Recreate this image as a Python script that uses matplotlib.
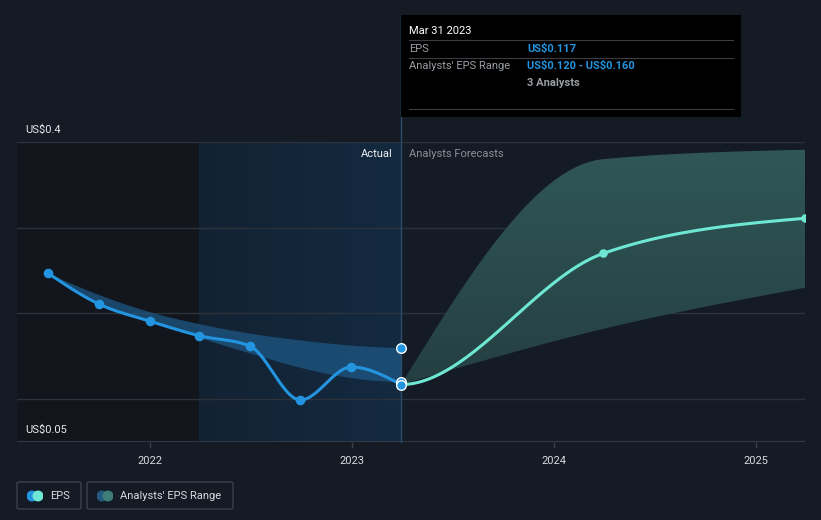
import numpy as np
import matplotlib
matplotlib.use("Agg")
import matplotlib.pyplot as plt
import matplotlib.dates as mdates
from matplotlib.patches import Rectangle, FancyBboxPatch, Circle
from matplotlib.path import Path
from matplotlib.patches import PathPatch
from matplotlib.colors import LinearSegmentedColormap
import datetime as dt

plt.rcParams['font.family'] = ['Roboto', 'DejaVu Sans']

# ---------------- data ----------------
actual_dates = ["2021-06-30", "2021-09-30", "2021-12-31", "2022-03-31",
                "2022-06-30", "2022-09-30", "2022-12-31", "2023-03-31"]
actual_eps = [0.247, 0.211, 0.191, 0.174, 0.162, 0.099, 0.1375, 0.117]
past_range_high = [0.247, 0.222, 0.202, 0.188, 0.177, 0.169, 0.163, 0.160]
past_range_low = [0.247, 0.212, 0.192, 0.172, 0.154, 0.137, 0.125, 0.120]

forecast_dates = ["2023-03-31", "2024-03-31", "2025-03-31"]
forecast_eps = [0.117, 0.270, 0.311]
forecast_high = [0.117, 0.380, 0.391]
forecast_low = [0.117, 0.182, 0.230]

xtick_labels = ["2022", "2023", "2024", "2025"]
y_labels = ["US$0.4", "US$0.05"]

tooltip_title = "Mar 31 2023"
tooltip_rows = [("EPS", "US$0.117"), ("Analysts' EPS Range", "US$0.120 - US$0.160")]
tooltip_note = "3 Analysts"


def esc(s):
    return s.replace("$", r"\$")


# ---------------- helpers ----------------
def to_num(ds):
    return np.array([mdates.date2num(dt.datetime.strptime(d, "%Y-%m-%d")) for d in ds])


def monotone(x, y, n=60):
    x = np.asarray(x, float); y = np.asarray(y, float)
    h = np.diff(x); s = np.diff(y) / h
    m = np.zeros_like(y)
    for k in range(1, len(y) - 1):
        p = (s[k-1] * h[k] + s[k] * h[k-1]) / (h[k-1] + h[k])
        m[k] = (np.sign(s[k-1]) + np.sign(s[k])) * min(abs(s[k-1]), abs(s[k]), 0.5 * abs(p))
    if len(y) > 2:
        m[0] = (3 * s[0] - m[1]) / 2
        m[-1] = (3 * s[-1] - m[-2]) / 2
    else:
        m[:] = s[0]
    xs, ys = [], []
    for k in range(len(h)):
        t = np.linspace(0, 1, n)
        h00 = 2*t**3 - 3*t**2 + 1; h10 = t**3 - 2*t**2 + t
        h01 = -2*t**3 + 3*t**2; h11 = t**3 - t**2
        yy = h00*y[k] + h10*h[k]*m[k] + h01*y[k+1] + h11*h[k]*m[k+1]
        xs.append(x[k] + t*h[k]); ys.append(yy)
    return np.concatenate(xs), np.concatenate(ys)


W, H = 821, 520
fig = plt.figure(figsize=(W/100, H/100), dpi=100)
BG = "#151b24"
fig.patch.set_facecolor(BG)

L, R, T, B = 17, 805, 142, 442
ax = fig.add_axes([L/W, 1 - B/H, (R-L)/W, (B-T)/H])
ax.set_facecolor(BG)

ax_x = to_num(actual_dates)
fx = to_num(forecast_dates)
xmin = mdates.date2num(dt.datetime(2021, 5, 5))
xmax = mdates.date2num(dt.datetime(2025, 3, 31))
ax.set_xlim(xmin, xmax)
ax.set_ylim(0.05, 0.4)

# background zones
ax.axvspan(xmin, ax_x[3], color="#12161c", zorder=0, lw=0)
grad = np.linspace(0, 1, 256).reshape(1, -1)
cm = LinearSegmentedColormap.from_list("g", ["#142233", "#132a40"])
ax.imshow(grad, extent=[ax_x[3], ax_x[-1], 0.05, 0.4], aspect="auto", cmap=cm, zorder=0.5)

# grid
for yv in [0.1, 0.2, 0.3, 0.4]:
    ax.axhline(yv, color="#2b323c", lw=1, zorder=1)

# past band
bx, bh = monotone(ax_x, past_range_high)
_, bl = monotone(ax_x, past_range_low)
ax.fill_between(bx, bl, bh, color="#1e5784", alpha=0.75, lw=0, zorder=2)

# forecast band (with vertical gradient)
fxh, fh = monotone(fx, forecast_high)
_, fl = monotone(fx, forecast_low)
verts = np.concatenate([np.column_stack([fxh, fh]), np.column_stack([fxh[::-1], fl[::-1]])])
poly = PathPatch(Path(verts), facecolor="none", edgecolor="none")
ax.add_patch(poly)
cm2 = LinearSegmentedColormap.from_list("g2", ["#22393d", "#305857"])
im = ax.imshow(np.linspace(0, 1, 256).reshape(-1, 1)[::-1], extent=[fx[0], fx[-1], 0.05, 0.4],
               aspect="auto", cmap=cm2, zorder=2)
im.set_clip_path(poly)

# forecast line (spline continues from last actual point)
sx = np.concatenate([[ax_x[-2]], fx]); sy = np.concatenate([[actual_eps[-2]], forecast_eps])
cx, cy = monotone(sx, sy)
mask = cx >= fx[0]
ax.plot(cx[mask], cy[mask], color="#6ee7d3", lw=2.2, zorder=4, solid_capstyle="round")
ax.scatter(fx[1:], forecast_eps[1:], s=38, color="#6ee7d3", zorder=5, lw=0)

# actual line
lx, ly = monotone(ax_x, actual_eps)
ax.plot(lx, ly, color="#2394df", lw=2.2, zorder=4, solid_capstyle="round")
ax.scatter(ax_x[:-1], actual_eps[:-1], s=48, color="#2394df", zorder=5, lw=0)

# end markers at tooltip date
ax.scatter([ax_x[-1]]*2, [past_range_high[-1], past_range_low[-1]], s=48, color="#2394df",
           edgecolor="white", lw=1, zorder=6)
ax.scatter([ax_x[-1]], [actual_eps[-1]], s=48, color="#2394df", edgecolor="white", lw=1, zorder=6)

# vertical cursor line
ax.plot([ax_x[-1], ax_x[-1]], [0.05, 0.4 + 127/857], color="#2c4d6b", lw=1, zorder=3, clip_on=False)

# axes styling
for sp in ax.spines.values():
    sp.set_visible(False)
ax.axhline(0.05, color="#3a414b", lw=1.2, zorder=3)
ax.set_yticks([])
ticks = [mdates.date2num(dt.datetime(int(y), 1, 1)) for y in xtick_labels]
ax.set_xticks(ticks)
ax.set_xticklabels(xtick_labels)
ax.tick_params(axis="x", colors="#3a414b", length=4, width=1, labelcolor="#d7dae0",
               labelsize=8, pad=6)

# y labels
fig.text(25/W, 1 - 130/H, esc(y_labels[0]), color="#e6e8eb", fontsize=8, va="center", ha="left")
fig.text(25/W, 1 - 430/H, esc(y_labels[1]), color="#e6e8eb", fontsize=8, va="center", ha="left")

# Actual / Forecast labels
fig.text(393/W, 1 - 154/H, "Actual", color="#eef0f2", fontsize=8, ha="right", va="center")
fig.text(409/W, 1 - 154/H, "Analysts Forecasts", color="#8b9097", fontsize=8, ha="left", va="center")

# tooltip
fig.patches.append(Rectangle((401/W, 1 - 117/H), 340/W, 102/H, transform=fig.transFigure,
                             facecolor="#000000", edgecolor="none", zorder=10))
for py in [40, 58, 109]:
    fig.lines.append(plt.Line2D([409/W, 733/W], [1 - py/H]*2, transform=fig.transFigure,
                                color="#3a3d42", lw=0.8, zorder=11))
fig.text(409/W, 1 - 31/H, tooltip_title, color="white", fontsize=8, va="center", zorder=12)
fig.text(409/W, 1 - 49/H, esc(tooltip_rows[0][0]), color="#9a9ea4", fontsize=8, va="center", zorder=12)
fig.text(527/W, 1 - 49/H, esc(tooltip_rows[0][1]), color="#2394df", fontsize=8, va="center",
         fontweight="bold", zorder=12)
fig.text(409/W, 1 - 66/H, esc(tooltip_rows[1][0]), color="#9a9ea4", fontsize=8, va="center", zorder=12)
fig.text(527/W, 1 - 66/H, esc(tooltip_rows[1][1]), color="#2394df", fontsize=8, va="center",
         fontweight="bold", zorder=12)
fig.text(527/W, 1 - 83/H, tooltip_note, color="#9a9ea4", fontsize=8, va="center",
         fontweight="bold", zorder=12)


# legend
def legend_box(x0, x1, c1, c2, label, tx):
    fig.patches.append(FancyBboxPatch((x0/W, 1 - 509/H), (x1-x0)/W, 27/H,
                                      boxstyle="round,pad=0,rounding_size=0.003",
                                      transform=fig.transFigure, facecolor="none",
                                      edgecolor="#3a414b", lw=1))
    ax_leg = fig.add_axes([(tx-23)/W, 1 - 502/H, 16/W, 12/H])
    ax_leg.set_xlim(0, 16); ax_leg.set_ylim(0, 12); ax_leg.axis("off")
    ax_leg.add_patch(Circle((5, 6), 4.8, color=c1))
    ax_leg.add_patch(Circle((11, 6), 4.8, color=c2))
    fig.text(tx/W, 1 - 496/H, esc(label), color="#d7dae0", fontsize=8, va="center")


legend_box(17, 81, "#2394df", "#6ee7d3", "EPS", 50)
legend_box(87, 233, "#24587e", "#3e7d78", "Analysts' EPS Range", 120)

fig.savefig("out.png", dpi=100, facecolor=BG)
